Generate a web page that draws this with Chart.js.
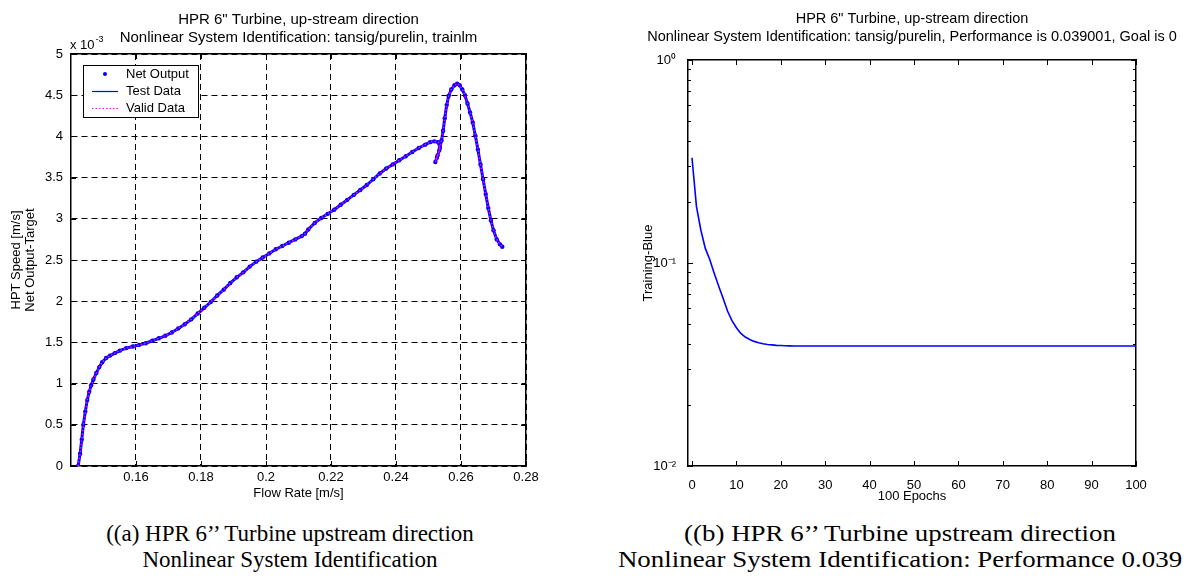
<!DOCTYPE html>
<html><head><meta charset="utf-8">
<script src="https://cdn.jsdelivr.net/npm/chart.js@4.4.1/dist/chart.umd.min.js"></script>
<style>
html,body{margin:0;padding:0;background:#fff;overflow:hidden;width:1192px;height:585px;}
canvas{position:absolute;top:0;}
#c1{left:0;}
#c2{left:632px;}
.cap{position:absolute;font-family:"Liberation Serif","Times New Roman",serif;line-height:26px;text-align:center;color:#000;white-space:nowrap;}
</style></head><body>
<canvas id="c1" width="597" height="500"></canvas>
<canvas id="c2" width="560" height="510"></canvas>
<div class="cap" style="left:90px;width:400px;top:521px;font-size:23px;">((a) HPR 6’’ Turbine upstream direction<br>Nonlinear System Identification</div>
<div class="cap" style="left:600px;width:600px;top:521px;font-size:23px;transform:scaleX(1.17);transform-origin:300px 0;">((b) HPR 6’’ Turbine upstream direction<br>Nonlinear System Identification: Performance 0.039</div>
<script>
// ---------- Chart (a) data ----------
const flowRate = [0.1422,0.1428,0.1433,0.1438,0.1444,0.1450,0.1456,0.1462,0.1469,0.1478,0.1487,0.1496,0.1508,0.1520,0.1535,0.1550,0.1570,0.1590,0.1610,0.1630,0.1650,0.1670,0.1690,0.1710,0.1730,0.1750,0.1770,0.1790,0.1810,0.1830,0.1850,0.1870,0.1890,0.1910,0.1930,0.1950,0.1970,0.1990,0.2010,0.2030,0.2050,0.2070,0.2090,0.2110,0.2120,0.2130,0.2150,0.2170,0.2190,0.2210,0.2230,0.2250,0.2270,0.2290,0.2310,0.2330,0.2350,0.2370,0.2390,0.2410,0.2430,0.2450,0.2470,0.2490,0.2505,0.2518,0.2530,0.2535,0.2528,0.2521,0.2526,0.2533,0.2540,0.2545,0.2550,0.2556,0.2562,0.2570,0.2580,0.2588,0.2596,0.2604,0.2612,0.2620,0.2628,0.2636,0.2644,0.2652,0.2660,0.2668,0.2676,0.2684,0.2692,0.2700,0.2710,0.2720,0.2727];
const hptSpeed = [0.00,0.15,0.32,0.50,0.66,0.80,0.90,0.98,1.05,1.13,1.20,1.26,1.31,1.34,1.37,1.40,1.43,1.45,1.47,1.49,1.52,1.55,1.58,1.62,1.67,1.72,1.78,1.85,1.92,1.99,2.07,2.14,2.22,2.29,2.35,2.42,2.48,2.53,2.58,2.63,2.67,2.71,2.75,2.79,2.82,2.87,2.95,3.01,3.06,3.11,3.17,3.23,3.29,3.35,3.41,3.48,3.55,3.61,3.66,3.71,3.76,3.81,3.86,3.90,3.93,3.94,3.93,3.86,3.77,3.69,3.74,3.83,3.95,4.07,4.22,4.38,4.49,4.57,4.62,4.64,4.62,4.57,4.50,4.40,4.29,4.17,4.01,3.84,3.66,3.48,3.30,3.13,2.98,2.86,2.75,2.69,2.66];
const flowTicks = [0.16,0.18,0.2,0.22,0.24,0.26,0.28];
const speedTicks = [0,0.5,1,1.5,2,2.5,3,3.5,4,4.5,5];
const titleA = ['HPR 6" Turbine, up-stream direction','Nonlinear System Identification: tansig/purelin, trainlm'];
const legendA = ['Net Output','Test Data','Valid Data'];
const colorsA = ['#0000ff','#0000ff','#ff00ff'];

// ---------- Chart (b) data ----------
const epochs = [0,1,2,3,4,5,6,7,8,9,10,11,12,13,14,15,16,17,18,19,20,21,22,23,24,100];
const perf = [0.33,0.19,0.145,0.118,0.104,0.089,0.077,0.067,0.058,0.052,0.048,0.045,0.0432,0.0420,0.0411,0.0405,0.0400,0.0397,0.0395,0.0393,0.0392,0.0391,0.03905,0.03902,0.039001,0.039001];
const epochTicks = [0,10,20,30,40,50,60,70,80,90,100];
const perfTicks = [0.01,0.1,1];
const perfTickLabels = ['10⁻²','10⁻¹','10⁰'];
const titleB = ['HPR 6" Turbine, up-stream direction','Nonlinear System Identification: tansig/purelin, Performance is 0.039001, Goal is 0'];

Chart.defaults.font.family = "'Liberation Sans', Arial, Helvetica, sans-serif";
Chart.defaults.font.size = 13;
Chart.defaults.color = '#000';

function insideTicks(xVals, yVals, yMinor) {
  return {
    id: 'insideTicks',
    afterDatasetsDraw(chart) {
      const ctx = chart.ctx, a = chart.chartArea, sx = chart.scales.x, sy = chart.scales.y;
      ctx.save();
      ctx.strokeStyle = '#000'; ctx.lineWidth = 1; ctx.setLineDash([]);
      const seg = (x1,y1,x2,y2) => { ctx.beginPath(); ctx.moveTo(x1,y1); ctx.lineTo(x2,y2); ctx.stroke(); };
      xVals.forEach(v => { const p = Math.round(sx.getPixelForValue(v)) + 0.5; seg(p, a.bottom, p, a.bottom - 5); seg(p, a.top, p, a.top + 5); });
      yVals.forEach(v => { const p = Math.round(sy.getPixelForValue(v)) + 0.5; seg(a.left, p, a.left + 5, p); seg(a.right, p, a.right - 5, p); });
      (yMinor || []).forEach(v => { const p = Math.round(sy.getPixelForValue(v)) + 0.5; seg(a.left, p, a.left + 3, p); seg(a.right, p, a.right - 3, p); });
      ctx.restore();
    }
  };
}

const legendPlugin = {
  id: 'boxLegend',
  afterDraw(chart) {
    const ctx = chart.ctx;
    const x0 = 83, y0 = 65, w = 115, h = 52;
    ctx.save();
    ctx.fillStyle = '#fff'; ctx.fillRect(x0, y0, w, h);
    ctx.strokeStyle = '#000'; ctx.lineWidth = 1; ctx.strokeRect(x0 + 0.5, y0 + 0.5, w, h);
    legendA.forEach((label, i) => {
      const cy = 74 + i * 17;
      if (i === 0) {
        ctx.fillStyle = colorsA[0];
        ctx.beginPath(); ctx.arc(105, cy, 2, 0, Math.PI * 2); ctx.fill();
      } else {
        ctx.strokeStyle = colorsA[i]; ctx.lineWidth = 1.2;
        ctx.setLineDash(i === 2 ? [1.5, 2] : []);
        ctx.beginPath(); ctx.moveTo(92, cy + 0.5); ctx.lineTo(118, cy + 0.5); ctx.stroke();
        ctx.setLineDash([]);
      }
      ctx.fillStyle = '#000';
      ctx.font = "13px 'Liberation Sans', Arial, sans-serif";
      ctx.textBaseline = 'middle'; ctx.textAlign = 'left';
      ctx.fillText(label, 126, cy);
    });
    ctx.restore();
  }
};

const exponentPlugin = {
  id: 'exponent',
  afterDraw(chart) {
    const ctx = chart.ctx;
    ctx.save();
    ctx.fillStyle = '#000'; ctx.textBaseline = 'alphabetic'; ctx.textAlign = 'left';
    ctx.font = "13px 'Liberation Sans', Arial, sans-serif";
    const t = 'x 10';
    ctx.fillText(t, 70, 49);
    const w = ctx.measureText(t).width;
    ctx.font = "9px 'Liberation Sans', Arial, sans-serif";
    ctx.fillText('-3', 70 + w + 1, 42);
    ctx.restore();
  }
};

const pts = flowRate.map((x, i) => ({ x: x, y: hptSpeed[i] }));

new Chart(document.getElementById('c1'), {
  type: 'line',
  data: {
    datasets: [
      { label: legendA[0], data: pts, showLine: false, pointRadius: 2.2, pointBackgroundColor: colorsA[0], pointBorderWidth: 0, pointBorderColor: colorsA[0], order: 3 },
      { label: legendA[1], data: pts, borderColor: colorsA[1], borderWidth: 3, pointRadius: 0, tension: 0, order: 2 },
      { label: legendA[2], data: pts, borderColor: colorsA[2], borderWidth: 1.5, borderDash: [1.5, 2], pointRadius: 0, tension: 0, order: 1 }
    ]
  },
  options: {
    responsive: false, animation: false, devicePixelRatio: 1,
    layout: { padding: 0 },
    plugins: {
      legend: { display: false }, tooltip: { enabled: false },
      title: { display: true, text: titleA, color: '#000', font: { size: 15, weight: 'normal', lineHeight: 18 / 15 }, padding: { top: 11, bottom: 7 } }
    },
    scales: {
      x: {
        type: 'linear', position: 'bottom', min: 0.14, max: 0.28,
        afterBuildTicks: s => { s.ticks = flowTicks.map(v => ({ value: v })); },
        afterFit: s => { s.height = 34; },
        ticks: { padding: 4, maxRotation: 0, autoSkip: false, callback: v => String(v) },
        grid: { color: '#000', lineWidth: 1, drawTicks: false },
        border: { color: '#000', width: 1.5, dash: [6, 4] },
        title: { display: true, text: 'Flow Rate [m/s]', font: { size: 13, lineHeight: 1 }, padding: { top: 0, bottom: 0 } }
      },
      x2: {
        type: 'linear', position: 'top', min: 0.14, max: 0.28,
        ticks: { display: false }, grid: { display: false },
        border: { color: '#000', width: 1.5 },
        afterFit: s => { s.height = 0; }
      },
      y: {
        type: 'linear', position: 'left', min: 0, max: 5,
        afterBuildTicks: s => { s.ticks = speedTicks.map(v => ({ value: v })); },
        afterFit: s => { s.width = 71; },
        ticks: { padding: 8, autoSkip: false, callback: v => String(v) },
        grid: { color: '#000', lineWidth: 1, drawTicks: false },
        border: { color: '#000', width: 1.5, dash: [6, 4] },
        title: { display: true, text: ['HPT Speed [m/s]', 'Net Output-Target'], font: { size: 13, lineHeight: 14 / 13 }, padding: { top: 9, bottom: 0 } }
      },
      y2: {
        type: 'linear', position: 'right', min: 0, max: 5,
        ticks: { display: false }, grid: { display: false },
        border: { color: '#000', width: 1.5 },
        afterFit: s => { s.width = 71; }
      }
    }
  },
  plugins: [insideTicks(flowTicks, speedTicks), legendPlugin, exponentPlugin]
});

const minorPerf = [];
[0.01, 0.1].forEach(d => { for (let m = 2; m <= 9; m++) minorPerf.push(m * d); });

new Chart(document.getElementById('c2'), {
  type: 'line',
  data: {
    datasets: [
      { label: 'Training', data: epochs.map((e, i) => ({ x: e, y: perf[i] })), borderColor: '#0000ff', borderWidth: 1.6, pointRadius: 0, tension: 0 }
    ]
  },
  options: {
    responsive: false, animation: false, devicePixelRatio: 1,
    layout: { padding: 0 },
    plugins: {
      legend: { display: false }, tooltip: { enabled: false },
      title: { display: true, text: titleB, color: '#000', font: { size: 14.5, weight: 'normal', lineHeight: 18 / 14.5 }, padding: { top: 10, bottom: 14 } }
    },
    scales: {
      x: {
        type: 'linear', position: 'bottom', min: -0.9, max: 100,
        afterBuildTicks: s => { s.ticks = epochTicks.map(v => ({ value: v })); },
        afterFit: s => { s.height = 44; },
        ticks: { padding: 4, maxRotation: 0, autoSkip: false, callback: v => String(v) },
        grid: { display: false },
        border: { color: '#000', width: 1.5 },
        title: { display: true, text: '100 Epochs', font: { size: 13, lineHeight: 1 }, padding: { top: 0, bottom: 7.5 } }
      },
      x2: {
        type: 'linear', position: 'top', min: -0.9, max: 100,
        ticks: { display: false }, grid: { display: false },
        border: { color: '#000', width: 1.5 },
        afterFit: s => { s.height = 0; }
      },
      y: {
        type: 'logarithmic', position: 'left', min: 0.01, max: 1,
        afterBuildTicks: s => { s.ticks = perfTicks.map(v => ({ value: v })); },
        afterFit: s => { s.width = 56; },
        ticks: { padding: 4, autoSkip: false, callback: (v, i) => perfTickLabels[i] },
        grid: { display: false },
        border: { color: '#000', width: 1.5 },
        title: { display: true, text: 'Training-Blue', font: { size: 13, lineHeight: 1 }, padding: { top: 10, bottom: 0 } }
      },
      y2: {
        type: 'logarithmic', position: 'right', min: 0.01, max: 1,
        ticks: { display: false }, grid: { display: false },
        border: { color: '#000', width: 1.5 },
        afterFit: s => { s.width = 56; }
      }
    }
  },
  plugins: [insideTicks(epochTicks, perfTicks, minorPerf)]
});
</script>
</body></html>
